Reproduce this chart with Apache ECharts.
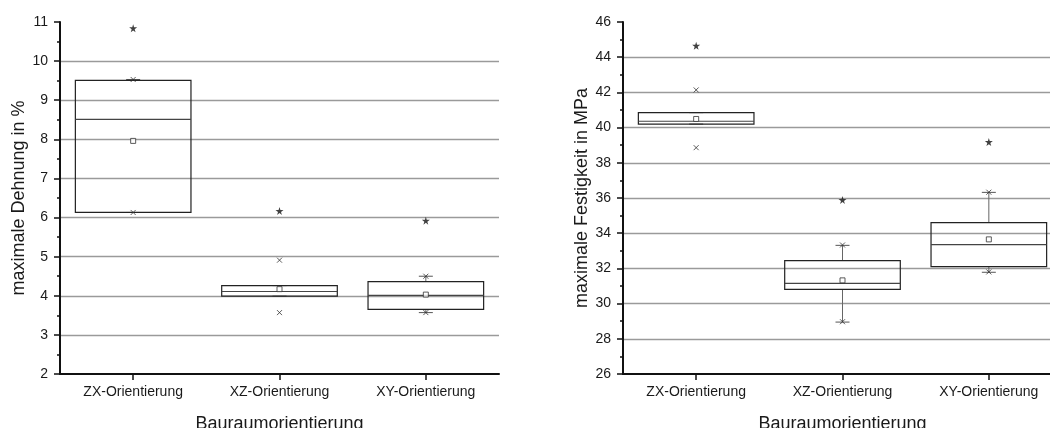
<!DOCTYPE html>
<html>
<head>
<meta charset="utf-8">
<script src="https://cdn.jsdelivr.net/npm/echarts@6/dist/echarts.min.js"></script>
<style>
html,body{margin:0;padding:0;background:#fff;}
#c{width:1050px;height:428px;}
</style>
</head>
<body>
<div id="c"></div>
<script>
// ---- data ----
var categories = ['ZX-Orientierung', 'XZ-Orientierung', 'XY-Orientierung'];
var yTitleLeft = 'maximale Dehnung in %';
var yTitleRight = 'maximale Festigkeit in MPa';
var xTitle = 'Bauraumorientierung';

// maximale Dehnung (%)
var dehnWhiskerLow  = [6.13, 3.99, 3.57];
var dehnQ1          = [6.13, 3.99, 3.65];
var dehnMedian      = [8.51, 4.11, 4.01];
var dehnQ3          = [9.51, 4.26, 4.36];
var dehnWhiskerHigh = [9.53, 4.26, 4.50];
var dehnMean        = [7.96, 4.17, 4.03];
var dehnPctLow      = [6.13, 3.57, 3.57];
var dehnPctHigh     = [9.53, 4.91, 4.50];
var dehnMax         = [10.84, 6.17, 5.92];

// maximale Festigkeit (MPa)
var festWhiskerLow  = [40.20, 28.95, 31.78];
var festQ1          = [40.20, 30.81, 32.10];
var festMedian      = [40.36, 31.15, 33.35];
var festQ3          = [40.85, 32.44, 34.60];
var festWhiskerHigh = [40.85, 33.31, 36.32];
var festMean        = [40.49, 31.32, 33.65];
var festPctLow      = [38.86, 28.97, 31.80];
var festPctHigh     = [42.14, 33.33, 36.33];
var festMax         = [44.65, 35.89, 39.18];

// ---- build ----
var FONT = '"Liberation Sans", Arial, sans-serif';
var TXT = '#1a1a1a';

function boxRows(lo, q1, med, q3, hi) {
  return categories.map(function (c, i) { return [i, lo[i], q1[i], med[i], q3[i], hi[i]]; });
}

function renderBox(params, api) {
  var i = api.value(0);
  var bw = api.size([1, 0])[0] * 0.79;
  var pLo = api.coord([i, api.value(1)]);
  var pQ1 = api.coord([i, api.value(2)]);
  var pMed = api.coord([i, api.value(3)]);
  var pQ3 = api.coord([i, api.value(4)]);
  var pHi = api.coord([i, api.value(5)]);
  var cx = pQ1[0];
  var cap = 7;
  var children = [
    {type: 'line', shape: {x1: cx, y1: pQ3[1], x2: cx, y2: pHi[1]}, style: {stroke: '#666', lineWidth: 1}},
    {type: 'line', shape: {x1: cx, y1: pQ1[1], x2: cx, y2: pLo[1]}, style: {stroke: '#666', lineWidth: 1}},
    {type: 'line', shape: {x1: cx - cap, y1: pHi[1], x2: cx + cap, y2: pHi[1]}, style: {stroke: '#555', lineWidth: 1}},
    {type: 'line', shape: {x1: cx - cap, y1: pLo[1], x2: cx + cap, y2: pLo[1]}, style: {stroke: '#555', lineWidth: 1}},
    {type: 'rect', shape: {x: cx - bw / 2, y: pQ3[1], width: bw, height: pQ1[1] - pQ3[1]},
      style: {fill: 'rgba(0,0,0,0)', stroke: '#222', lineWidth: 1.2}},
    {type: 'line', shape: {x1: cx - bw / 2, y1: pMed[1], x2: cx + bw / 2, y2: pMed[1]}, style: {stroke: '#444', lineWidth: 1.2}}
  ];
  return {type: 'group', children: children};
}

var CROSS = 'path://M0,0L10,10M10,0L0,10';
var STAR = 'path://M50,0L61,35L98,35L68,57L79,91L50,70L21,91L32,57L2,35L39,35Z';

function seriesFor(idx, lo, q1, med, q3, hi, mean, pLo, pHi, mx) {
  return [
    {type: 'custom', xAxisIndex: idx, yAxisIndex: idx, renderItem: renderBox,
      data: boxRows(lo, q1, med, q3, hi), encode: {x: 0, y: [1, 2, 3, 4, 5]}, z: 3, silent: true},
    {type: 'scatter', xAxisIndex: idx, yAxisIndex: idx, data: mean, symbol: 'rect', symbolSize: 5,
      itemStyle: {color: '#fff', borderColor: '#333', borderWidth: 1}, z: 5, silent: true},
    {type: 'scatter', xAxisIndex: idx, yAxisIndex: idx, data: pLo, symbol: CROSS, symbolSize: 5,
      itemStyle: {color: 'rgba(0,0,0,0)', borderColor: '#333', borderWidth: 1}, z: 5, silent: true},
    {type: 'scatter', xAxisIndex: idx, yAxisIndex: idx, data: pHi, symbol: CROSS, symbolSize: 5,
      itemStyle: {color: 'rgba(0,0,0,0)', borderColor: '#333', borderWidth: 1}, z: 5, silent: true},
    {type: 'scatter', xAxisIndex: idx, yAxisIndex: idx, data: mx, symbol: STAR, symbolSize: 8,
      itemStyle: {color: '#111'}, z: 5, silent: true}
  ];
}

function xAxisFor(idx) {
  return {
    type: 'category', gridIndex: idx, data: categories, boundaryGap: true,
    axisLine: {show: true, lineStyle: {color: '#111', width: 2}},
    axisTick: {show: true, alignWithLabel: true, length: 6, lineStyle: {color: '#111', width: 1.5}},
    axisLabel: {fontFamily: FONT, fontSize: 14, color: TXT, margin: 11},
    splitLine: {show: false},
    name: xTitle, nameLocation: 'middle', nameGap: 41,
    nameTextStyle: {fontFamily: FONT, fontSize: 18, color: TXT}
  };
}

function yAxisFor(idx, min, max, interval, title) {
  return {
    type: 'value', gridIndex: idx, min: min, max: max, interval: interval,
    axisLine: {show: true, lineStyle: {color: '#111', width: 2}},
    axisTick: {show: true, length: 6, lineStyle: {color: '#111', width: 1.5}},
    minorTick: {show: true, splitNumber: 2, length: 3, lineStyle: {color: '#111', width: 1.5}},
    axisLabel: {fontFamily: FONT, fontSize: 14, color: TXT, margin: 12},
    splitLine: {show: true, showMinLine: false, showMaxLine: false, lineStyle: {color: '#9a9a9a', width: 1.3}},
    name: title, nameLocation: 'middle', nameGap: 27, nameRotate: 90,
    nameTextStyle: {fontFamily: FONT, fontSize: 18, color: TXT}
  };
}

var option = {
  backgroundColor: '#fff',
  animation: false,
  grid: [
    {left: 60, top: 22, width: 439, height: 352, containLabel: false, outerBoundsMode: 'none'},
    {left: 623, top: 22, width: 439, height: 352, containLabel: false, outerBoundsMode: 'none'}
  ],
  xAxis: [xAxisFor(0), xAxisFor(1)],
  yAxis: [
    yAxisFor(0, 2, 11, 1, yTitleLeft),
    yAxisFor(1, 26, 46, 2, yTitleRight)
  ],
  series: [].concat(
    seriesFor(0, dehnWhiskerLow, dehnQ1, dehnMedian, dehnQ3, dehnWhiskerHigh, dehnMean, dehnPctLow, dehnPctHigh, dehnMax),
    seriesFor(1, festWhiskerLow, festQ1, festMedian, festQ3, festWhiskerHigh, festMean, festPctLow, festPctHigh, festMax)
  )
};

var chart = echarts.init(document.getElementById('c'), null, {renderer: 'canvas'});
chart.setOption(option);
</script>
</body>
</html>
